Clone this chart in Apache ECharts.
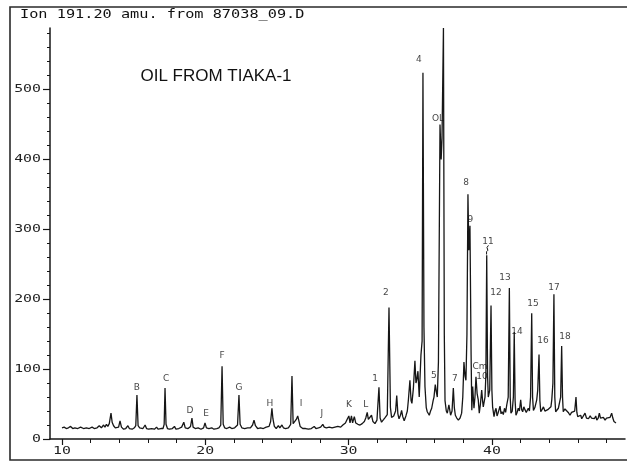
<!DOCTYPE html>
<html><head><meta charset="utf-8">
<script src="https://cdn.jsdelivr.net/npm/echarts@6/dist/echarts.min.js"></script>
<style>html,body{margin:0;padding:0;background:#fff}#c{width:630px;height:462px}</style>
</head><body><div id="c"></div>
<script>
// ---- data: retention time (min) vs abundance ----
const seg1 = [[10.0,16],[10.15,17],[10.3,15],[10.45,16],[10.6,18],[10.75,15],[10.9,16],[11.1,15],[11.3,17],[11.5,15],[11.7,16],[11.9,15],[12.1,17],[12.25,15],[12.45,16],[12.6,19],[12.75,16],[12.9,20],[13.0,17],[13.1,21],[13.2,18],[13.3,22],[13.42,37],[13.5,24],[13.6,19],[13.72,16],[13.85,15],[13.95,17],[14.05,26],[14.15,17],[14.3,14],[14.45,15],[14.6,19],[14.7,15],[14.9,14],[15.05,16],[15.15,19],[15.23,63],[15.31,19],[15.42,16],[15.55,18],[15.65,15],[15.8,20],[15.9,15],[16.05,14],[16.25,15],[16.45,14],[16.6,17],[16.7,14],[16.9,15],[17.05,15],[17.13,21],[17.19,73],[17.26,21],[17.36,15],[17.5,14],[17.7,15],[17.85,18],[17.95,14],[18.15,15],[18.35,17],[18.5,24],[18.6,16],[18.8,15],[18.97,18],[19.07,30],[19.15,17],[19.3,15],[19.5,16],[19.7,14],[19.88,16],[19.98,23],[20.08,16],[20.25,15],[20.45,16],[20.6,14],[20.8,15],[20.95,16]];
const seg2 = [[21.08,20],[21.17,104],[21.25,21],[21.35,16],[21.5,15],[21.7,17],[21.85,15],[22.05,16],[22.25,20],[22.35,63],[22.43,21],[22.55,16],[22.75,15],[22.95,16],[23.15,16],[23.3,20],[23.4,27],[23.5,19],[23.65,15],[23.85,16],[24.05,15],[24.25,17],[24.45,18],[24.56,25],[24.65,44],[24.72,29],[24.82,18],[24.95,15],[25.1,19],[25.2,16],[25.35,20],[25.45,16],[25.6,15],[25.8,16],[25.96,21],[26.05,90],[26.13,22],[26.25,21],[26.35,28],[26.45,33],[26.52,27],[26.62,18],[26.8,15],[27.0,15],[27.2,14],[27.4,15],[27.6,18],[27.72,15],[27.9,16],[28.05,17],[28.2,21],[28.3,17],[28.45,16],[28.65,17],[28.85,16],[29.05,17],[29.25,18],[29.45,17],[29.6,20],[29.78,23],[29.92,29],[30.02,33],[30.1,23],[30.2,33],[30.28,23],[30.4,32],[30.5,23],[30.65,21]];
const seg3 = [[30.8,20],[30.95,22],[31.1,25],[31.2,30],[31.3,38],[31.38,28],[31.5,27],[31.6,34],[31.7,25],[31.84,22],[31.98,27],[32.12,74],[32.2,30],[32.3,24],[32.45,28],[32.56,31],[32.7,35],[32.82,188],[32.92,45],[33.0,31],[33.15,33],[33.28,40],[33.36,62],[33.44,36],[33.52,29],[33.62,34],[33.7,41],[33.78,32],[33.88,26],[34.0,33],[34.1,40],[34.17,55],[34.28,84],[34.36,55],[34.42,51],[34.52,72],[34.63,112],[34.7,80],[34.75,84],[34.84,97],[34.93,60],[35.05,120],[35.13,140],[35.19,524],[35.26,160],[35.33,75],[35.42,45],[35.49,39],[35.63,34],[35.72,40],[35.8,44],[35.9,55],[35.96,60],[36.05,78],[36.12,68],[36.19,60],[36.27,110],[36.38,450],[36.46,400],[36.52,430],[36.62,588],[36.68,150],[36.73,55],[36.82,40],[36.89,37],[37.0,49],[37.12,34],[37.22,40],[37.31,73],[37.38,45],[37.45,34],[37.55,30],[37.66,27],[37.78,30],[37.89,37],[37.97,60],[38.05,110],[38.13,90],[38.19,84],[38.26,150],[38.33,350],[38.39,270],[38.47,305],[38.55,120],[38.6,41]];
const seg4 = [[38.66,75],[38.75,44],[38.82,60],[38.89,89],[38.97,65],[39.05,56],[39.12,37],[39.2,50],[39.29,70],[39.35,55],[39.4,46],[39.52,60],[39.58,90],[39.64,263],[39.7,90],[39.75,60],[39.85,70],[39.94,191],[40.0,70],[40.05,46],[40.15,32],[40.22,40],[40.29,44],[40.36,33],[40.43,37],[40.5,42],[40.57,47],[40.64,36],[40.71,39],[40.8,35],[40.88,44],[40.96,38],[41.04,49],[41.14,60],[41.22,216],[41.28,60],[41.33,37],[41.42,40],[41.5,60],[41.56,153],[41.62,55],[41.68,34],[41.76,38],[41.84,44],[41.92,40],[42.01,56],[42.08,42],[42.15,39],[42.23,46],[42.31,42],[42.4,38],[42.48,40],[42.54,44],[42.62,40],[42.7,60],[42.78,180],[42.84,60],[42.9,41],[43.0,45],[43.08,44],[43.13,56],[43.2,70],[43.29,121],[43.35,55],[43.41,39],[43.5,42],[43.6,46],[43.7,40],[43.78,38],[43.9,42],[44.02,41],[44.12,46],[44.18,56],[44.26,80],[44.33,207],[44.39,60],[44.45,39],[44.55,40],[44.64,44],[44.72,45],[44.8,60],[44.87,133],[44.93,60],[44.98,39],[45.1,43],[45.22,41],[45.33,38],[45.45,34],[45.56,38],[45.68,37],[45.78,40],[45.87,60],[45.93,38],[45.99,32],[46.1,31],[46.2,34],[46.27,29],[46.38,31],[46.5,37],[46.6,30],[46.74,29],[46.86,33],[46.95,30],[47.04,32],[47.15,29],[47.25,33],[47.32,27],[47.42,30],[47.5,37],[47.58,30],[47.67,29],[47.78,31],[47.9,27],[48.0,30],[48.13,29],[48.25,31],[48.36,37],[48.44,30],[48.52,25],[48.66,23]];

const peakNames = ['B','C','D','E','F','G','H','I','J','K','L','1','2','4','OL','6','5','7','8','9','11','12','13','14','15','16','17','18','Cm','10'];
const peakLabelAt = [[15.23,74],[17.26,87],[18.93,41],[20.05,36],[21.17,119],[22.35,74],[24.5,51],[26.68,50],[28.14,36],[30.03,49],[31.2,49],[31.85,87],[32.6,210],[34.91,543],[36.24,459],[36.45,596],[35.96,90],[37.42,87],[38.2,367],[38.5,314],[39.73,283],[40.29,209],[40.92,231],[41.75,154],[42.87,193],[43.57,140],[44.33,217],[45.1,147],[39.17,103],[39.31,89]];

const yMajor = [0,100,200,300,400,500];
const yMinor = [20,40,60,80,120,140,160,180,220,240,260,280,320,340,360,380,420,440,460,480,520,540,560,580];
const xMajor = [10,20,30,40];
const xMinor = [10,12,14,16,18,20,22,24,26,28,30,32,34,36,38,40,42,44,46,48];

const headerText = 'Ion 191.20 amu. from 87038_09.D';
const titleText = 'OIL FROM TIAKA-1';

const trace = [].concat(seg1, seg2, seg3, seg4);
const X_MIN = 9.163, X_MAX = 49.29, Y_MAX = 588;
const ink = '#161616';

const chart = echarts.init(document.getElementById('c'), null, {renderer:'canvas'});
const baseAxisX = {type:'value', min:X_MIN, max:X_MAX, splitLine:{show:false}, axisLabel:{show:false}};
const baseAxisY = {type:'value', min:0, max:Y_MAX, splitLine:{show:false}, axisLabel:{show:false}};
const option = {
  animation:false,
  backgroundColor:'#fff',
  grid:{left:50, right:5, top:28, bottom:23, containLabel:false},
  xAxis:[
    Object.assign({}, baseAxisX, {position:'bottom', axisLine:{show:true, onZero:false, lineStyle:{color:ink, width:1.5}},
      axisTick:{show:true, customValues:xMinor, length:4, lineStyle:{color:ink, width:1}}}),
    Object.assign({}, baseAxisX, {position:'bottom', axisLine:{show:false},
      axisTick:{show:true, customValues:xMajor, length:6, lineStyle:{color:ink, width:1.2}}})
  ],
  yAxis:[
    Object.assign({}, baseAxisY, {position:'left', axisLine:{show:true, onZero:false, lineStyle:{color:ink, width:1.5}},
      axisTick:{show:true, customValues:yMajor, length:7, lineStyle:{color:ink, width:1.2}}}),
    Object.assign({}, baseAxisY, {position:'left', axisLine:{show:false},
      axisTick:{show:true, customValues:yMinor, length:3, lineStyle:{color:ink, width:1}}})
  ],
  series:[
    {type:'line', data:trace, xAxisIndex:0, yAxisIndex:0, showSymbol:false, symbol:'none',
      lineStyle:{color:ink, width:1.3}, z:3},
    {type:'scatter', data:peakLabelAt.map((p,i)=>({value:p, name:peakNames[i]})), symbolSize:0, z:4,
      label:{show:true, position:'inside', formatter:(p)=>p.name, color:'#111',
        fontFamily:'DejaVu Sans', fontSize:9},
      emphasis:{disabled:true}}
  ]
};
chart.setOption(option);

const g = [];
// frame
g.push({type:'polyline', shape:{points:[[627,7],[10,7],[10,460],[627,460]]}, style:{stroke:'#2a2a2a', lineWidth:1.6, fill:null}});
// header
g.push({type:'text', x:20, y:15, scaleX:1.27, style:{text:headerText, fontFamily:'DejaVu Sans Mono', fontSize:12, fill:'#111', align:'left', verticalAlign:'middle'}});
// title
g.push({type:'text', x:216, y:76, style:{text:titleText, fontFamily:'Liberation Sans', fontSize:17, fill:'#111', align:'center', verticalAlign:'middle'}});
// y tick labels
yMajor.forEach(v => {
  const py = chart.convertToPixel({yAxisIndex:0}, v);
  g.push({type:'text', x:41, y:py, scaleX:1.35, style:{text:String(v), fontFamily:'DejaVu Sans Mono', fontSize:11, fill:'#222', align:'right', verticalAlign:'middle'}});
});
// x tick labels
xMajor.forEach(v => {
  const px = chart.convertToPixel({xAxisIndex:0}, v);
  g.push({type:'text', x:px, y:451, scaleX:1.35, style:{text:String(v), fontFamily:'DejaVu Sans Mono', fontSize:11, fill:'#222', align:'center', verticalAlign:'middle'}});
});
// squiggle mark on peak 11
const sq = [[39.63,264],[39.63,268],[39.72,270],[39.66,274],[39.76,277]].map(p => chart.convertToPixel({xAxisIndex:0, yAxisIndex:0}, p));
g.push({type:'polyline', shape:{points:sq}, style:{stroke:ink, lineWidth:1, fill:null}});
chart.setOption({graphic:g});
</script>
</body></html>
